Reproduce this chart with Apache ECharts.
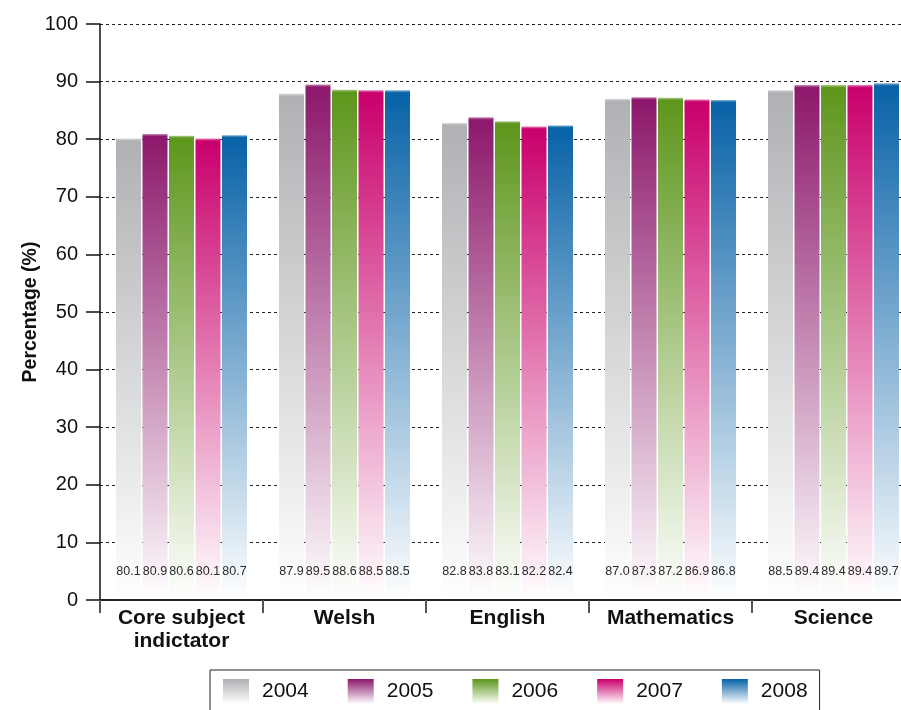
<!DOCTYPE html>
<html>
<head>
<meta charset="utf-8">
<script src="https://cdn.jsdelivr.net/npm/echarts@6/dist/echarts.min.js"></script>
<style>
html, body { margin: 0; padding: 0; background: #fff; overflow: hidden; }
#main { width: 915px; height: 710px; }
</style>
</head>
<body>
<div id="main"></div>
<script>
var categories = ['Core subject\nindictator', 'Welsh', 'English', 'Mathematics', 'Science'];
var years = ['2004', '2005', '2006', '2007', '2008'];
var yearColors = ['#b0b1b4', '#8c186b', '#5e961c', '#c9006c', '#0862a7'];
var topColors = ['#d6d7d9', '#c88cb5', '#aecb8d', '#e480b5', '#84b0d3'];
var values = {
    '2004': [80.1, 87.9, 82.8, 87.0, 88.5],
    '2005': [80.9, 89.5, 83.8, 87.3, 89.4],
    '2006': [80.6, 88.6, 83.1, 87.2, 89.4],
    '2007': [80.1, 88.5, 82.2, 86.9, 89.4],
    '2008': [80.7, 88.5, 82.4, 86.8, 89.7]
};
var yTicks = { min: 0, max: 100, interval: 10 };

var myChart = echarts.init(document.getElementById('main'));

var fade = function (i) {
    return new echarts.graphic.LinearGradient(0, 0, 0, 1, [
        { offset: 0, color: topColors[i] },
        { offset: 0.005, color: yearColors[i] },
        { offset: 1, color: '#ffffff' }
    ]);
};

var series = years.map(function (y, i) {
    return {
        name: y,
        type: 'bar',
        barWidth: 25,
        barGap: '6%',
        data: values[y],
        itemStyle: { color: fade(i) },
        label: {
            show: true,
            position: 'insideBottom',
            distance: 22,
            fontSize: 12.5,
            color: '#2a2a2a',
            formatter: function (p) { return p.value.toFixed(1); }
        }
    };
});

var option = {
    backgroundColor: '#fff',
    animation: false,
    textStyle: { fontFamily: 'Arial, Liberation Sans, sans-serif' },
    grid: { left: 100, top: 24, right: 0, bottom: 110, containLabel: false },
    legend: {
        data: years,
        icon: 'rect',
        left: 210,
        top: 670,
        itemWidth: 26,
        itemHeight: 25,
        itemGap: 39,
        padding: [9, 12, 9, 13],
        borderColor: '#222',
        borderWidth: 1,
        textStyle: { fontSize: 21, color: '#111', padding: [0, 0, 0, 8] }
    },
    xAxis: {
        type: 'category',
        data: categories,
        z: 5,
        axisLine: { lineStyle: { color: '#222', width: 2 } },
        axisTick: { show: true, interval: 0, length: 13, lineStyle: { color: '#555', width: 2 } },
        axisLabel: {
            interval: 0,
            margin: 7,
            fontSize: 21,
            fontWeight: 'bold',
            color: '#111',
            lineHeight: 23
        }
    },
    yAxis: {
        type: 'value',
        min: yTicks.min,
        max: yTicks.max,
        interval: yTicks.interval,
        name: 'Percentage (%)',
        nameLocation: 'middle',
        nameGap: 59,
        nameMoveOverlap: false,
        nameTextStyle: { fontSize: 19.5, fontWeight: 'bold', color: '#111' },
        axisLine: { show: true, lineStyle: { color: '#111', width: 1.5 } },
        axisTick: { show: true, length: 14, lineStyle: { color: '#111', width: 1.5 } },
        axisLabel: { margin: 22, fontSize: 20, color: '#111' },
        splitLine: { lineStyle: { color: '#222', type: [3, 3], width: 1 } }
    },
    series: series
};

myChart.setOption(option);
</script>
</body>
</html>
